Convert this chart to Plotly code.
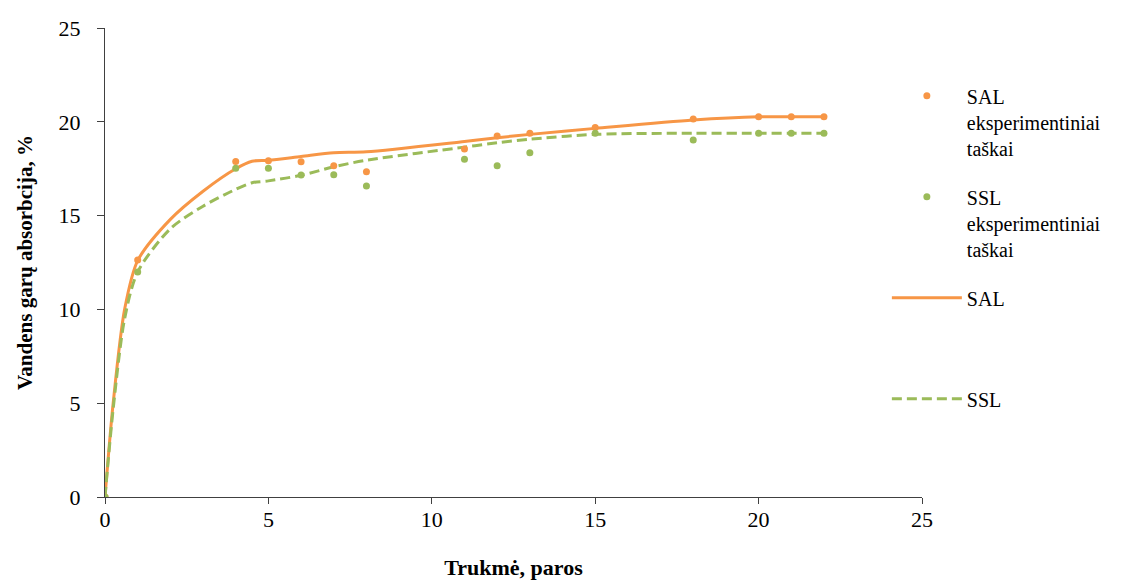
import plotly.graph_objects as go

# Experimental points
days = [0, 1, 4, 5, 6, 7, 8, 11, 12, 13, 15, 18, 20, 21, 22]
sal_points = [0, 12.63, 17.89, 17.93, 17.87, 17.66, 17.34, 18.55, 19.24, 19.39, 19.69, 20.15, 20.27, 20.27, 20.27]
ssl_points = [0, 12.0, 17.52, 17.52, 17.16, 17.18, 16.58, 18.0, 17.66, 18.35, 19.39, 19.03, 19.39, 19.39, 19.39]

# Fitted curves
fit_days = [0, 0.25, 0.6, 1, 2, 3, 4, 4.5, 5, 6, 7, 8, 11, 12, 13, 15, 18, 20, 21, 22]
sal_fit = [0, 5.0, 10.0, 12.6, 14.8, 16.3, 17.5, 17.9, 17.95, 18.15, 18.35, 18.4, 18.95, 19.15, 19.33, 19.65, 20.1, 20.27, 20.27, 20.27]
ssl_fit = [0, 4.7, 9.5, 12.0, 14.3, 15.5, 16.4, 16.75, 16.85, 17.15, 17.6, 17.95, 18.65, 18.88, 19.07, 19.33, 19.39, 19.39, 19.39, 19.39]

ticks = [0, 5, 10, 15, 20, 25]

ORANGE = "#F79646"
GREEN = "#9BBB59"
FONT = "Liberation Serif"
AXIS_COLOR = "#404040"

fig = go.Figure()
fig.add_trace(go.Scatter(x=fit_days, y=sal_fit, mode="lines", name="SAL<br>\u00a0<br>\u00a0",
                         line=dict(color=ORANGE, width=3, shape="spline", smoothing=0.8),
                         legendrank=3, legendgroup="c"))
fig.add_trace(go.Scatter(x=fit_days, y=ssl_fit, mode="lines", name="SSL",
                         line=dict(color=GREEN, width=3, shape="spline", smoothing=0.8, dash="10px,5px"),
                         legendrank=4, legendgroup="d"))
fig.add_trace(go.Scatter(x=days, y=sal_points, mode="markers", name="SAL<br>eksperimentiniai<br>taškai",
                         marker=dict(color=ORANGE, size=7), legendrank=1, legendgroup="a"))
fig.add_trace(go.Scatter(x=days, y=ssl_points, mode="markers", name="SSL<br>eksperimentiniai<br>taškai",
                         marker=dict(color=GREEN, size=7), legendrank=2, legendgroup="b"))

axis_common = dict(
    range=[0, 25], tickvals=ticks, showgrid=False, zeroline=False,
    showline=True, linecolor=AXIS_COLOR, linewidth=1,
    ticks="outside", tickcolor=AXIS_COLOR,
    tickfont=dict(family=FONT, size=22, color="black"),
    automargin=False,
)

fig.update_layout(
    width=1139, height=575,
    margin=dict(l=97, r=225, t=20, b=86),
    paper_bgcolor="white", plot_bgcolor="white",
    font=dict(family=FONT, size=21, color="black"),
    xaxis=dict(**axis_common, ticklen=6, ticklabelstandoff=-3,
               title=dict(text="<b>Trukmė, paros</b>", font=dict(family=FONT, size=22), standoff=28)),
    yaxis=dict(**axis_common, ticklen=7, ticklabelstandoff=12,
               title=dict(text="<b>Vandens garų absorbcija, %</b>", font=dict(family=FONT, size=21), standoff=20)),
    legend=dict(x=0.957, xanchor="left", y=0.897, yanchor="top", valign="top",
                font=dict(family=FONT, size=20, color="black"),
                itemwidth=70, tracegroupgap=20, bgcolor="rgba(0,0,0,0)"),
    showlegend=True,
)

fig.write_html("out.html")
